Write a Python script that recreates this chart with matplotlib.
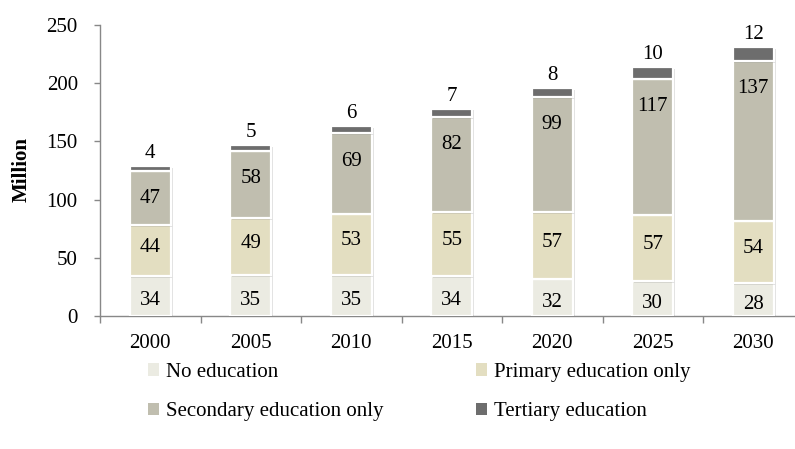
import matplotlib
matplotlib.use("Agg")
import matplotlib.pyplot as plt
import matplotlib.patheffects as pe
from matplotlib.patches import Patch
import numpy as np

years = ["2000", "2005", "2010", "2015", "2020", "2025", "2030"]
no_edu = [34, 35, 35, 34, 32, 30, 28]
primary = [44, 49, 53, 55, 57, 57, 54]
secondary = [47, 58, 69, 82, 99, 117, 137]
tertiary = [4, 5, 6, 7, 8, 10, 12]
series_names = ["No education", "Primary education only",
                "Secondary education only", "Tertiary education"]
colors = ["#EBEBE2", "#E3DEC1", "#C0BEAF", "#6D6D6D"]
yticks = [0, 50, 100, 150, 200, 250]

plt.rcParams['font.family'] = ['Liberation Serif', 'DejaVu Serif']
FS = 15

fig = plt.figure(figsize=(7.95, 4.49), dpi=100)
ax = fig.add_axes([100/795, 1-316/449, 703.5/795, 291/449])

x = np.arange(len(years))
series = [no_edu, primary, secondary, tertiary]
bottom = np.zeros(len(years))
shadow = [pe.SimplePatchShadow(offset=(1.2, -1.2), shadow_rgbFace="#000000", alpha=0.12), pe.Normal()]
bars_all = []
for vals, col in zip(series, colors):
    v = np.array(vals, dtype=float)
    bars = ax.bar(x, v, bottom=bottom, width=0.41, color=col,
                  edgecolor="white", linewidth=1.6, zorder=3)
    for b in bars:
        b.set_path_effects(shadow)
    bars_all.append((v, bottom.copy()))
    bottom = bottom + v

# labels
for i in range(len(years)):
    v, b = bars_all[0]
    ax.text(x[i], b[i] + v[i] / 2 - 4, f"{int(v[i])}", ha="center", va="center", fontsize=FS, zorder=5)
    v, b = bars_all[1]
    ax.text(x[i], b[i] + v[i] / 2 + 3, f"{int(v[i])}", ha="center", va="center", fontsize=FS, zorder=5)
    v, b = bars_all[2]
    ax.annotate(f"{int(v[i])}", (x[i], b[i] + v[i]), xytext=(0, -20), textcoords="offset points",
                ha="center", va="center", fontsize=FS, zorder=5)
    v, b = bars_all[3]
    ax.annotate(f"{int(v[i])}", (x[i], b[i] + v[i]), xytext=(0, 2), textcoords="offset points",
                ha="center", va="bottom", fontsize=FS, zorder=5)

ax.set_xlim(-0.5, len(years) - 0.5)
ax.set_ylim(0, 250)
ax.set_yticks(yticks)
ax.set_yticklabels([str(t) for t in yticks], fontsize=FS)
ax.set_xticks(x)
ax.set_xticklabels(years, fontsize=FS)
ax.set_xticks(np.arange(-0.5, len(years) + 0.5, 1), minor=True)
ax.tick_params(axis="x", which="major", length=0, pad=13)
ax.tick_params(axis="x", which="minor", length=5, color="#888888", width=1)
ax.tick_params(axis="y", length=4, color="#888888", width=1, pad=12)
for s in ["top", "right"]:
    ax.spines[s].set_visible(False)
for s in ["left", "bottom"]:
    ax.spines[s].set_color("#888888")
    ax.spines[s].set_linewidth(1.0)

fig.text(22/795, 1 - 170/449, "Million", rotation=90, ha="center", va="center",
         fontsize=FS, fontweight="bold")

order = [0, 2, 1, 3]
handles = [Patch(facecolor=colors[k], edgecolor="none") for k in order]
labels = [series_names[k] for k in order]
fig.legend(handles, labels, loc="upper left", bbox_to_anchor=(148/795, 1 - 363/449),
           ncol=2, frameon=False, fontsize=FS, handlelength=0.55, handleheight=0.55,
           handletextpad=0.3, columnspacing=4.45, labelspacing=0.98, borderpad=0,
           borderaxespad=0)

fig.savefig("out.png", dpi=100)
